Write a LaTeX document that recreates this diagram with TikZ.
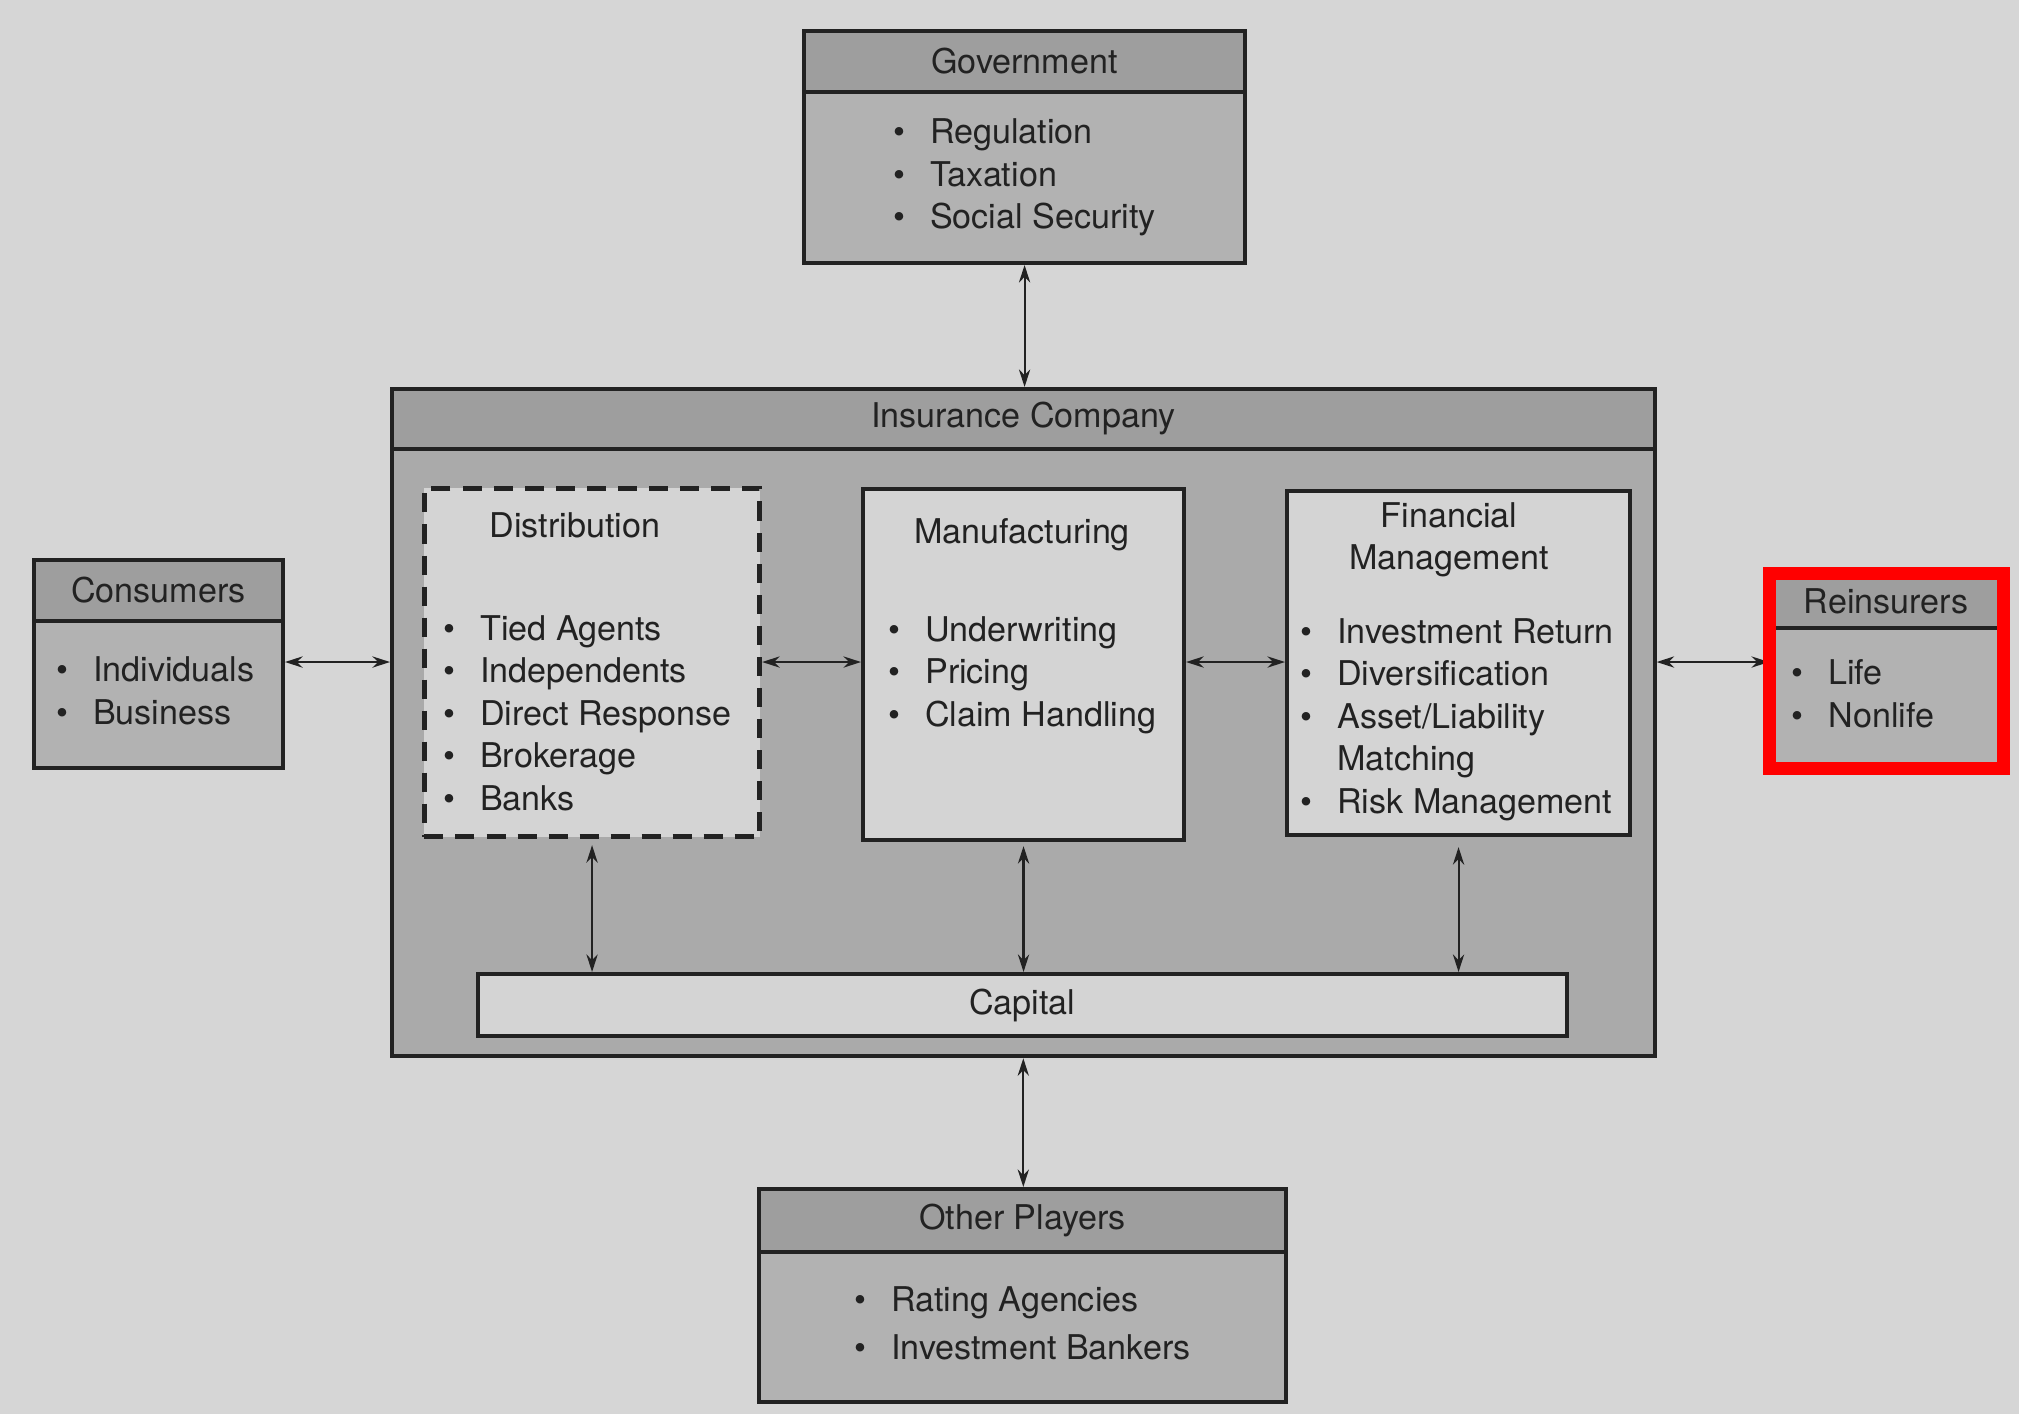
\documentclass[tikz,border=0pt]{standalone}
\usepackage{fontspec}
\setsansfont{TeX Gyre Heros}
\usetikzlibrary{arrows.meta,positioning,fit}

\definecolor{paperGray}{RGB}{214,214,214}
\definecolor{headGray}{RGB}{158,158,158}
\definecolor{bodyGray}{RGB}{178,178,178}
\definecolor{companyGray}{RGB}{170,170,170}
\definecolor{innerGray}{RGB}{212,212,212}
\definecolor{inkGray}{RGB}{34,34,34}

\newcommand{\bulletList}[1]{\begin{tabular}[t]{@{}l@{\hspace{7pt}}l@{}}#1\end{tabular}}

\begin{document}
\begin{tikzpicture}[x=0.01cm,y=-0.01cm,>={Stealth[length=5pt,width=3.2pt]},
    font={\sffamily\fontsize{9.7}{12.1}\selectfont},text=inkGray,
    box/.style={draw=inkGray,line width=1.1pt,anchor=north west,inner sep=0pt},
    head/.style={box,fill=headGray},
    body/.style={box,fill=bodyGray},
    inner/.style={box,fill=innerGray},
    item/.style={anchor=base west,inner sep=0pt},
    title/.style={anchor=base,inner sep=0pt},
    link/.style={<->,draw=inkGray,line width=0.6pt}]
    %\fill paper
    \useasboundingbox (0,0) rectangle (2019,1414);
    \fill[paperGray] (0,0) rectangle (2019,1414);
    \coordinate (arrowY) at (0,662);

    \node[head,minimum width=4.41cm,minimum height=0.61cm] (govHeadNode) at (802,29) {Government};
    \node[body,minimum width=4.41cm,minimum height=1.71cm] (govNode) at (802,90)
        {\bulletList{\textbullet & Regulation\\ \textbullet & Taxation\\ \textbullet & Social Security}};

    \node[head,minimum width=2.49cm,minimum height=0.61cm] (consumersHeadNode) at (32,558) {Consumers};
    \node[body,minimum width=2.49cm,minimum height=1.47cm] (consumersNode) at (32,619)
        {\hspace{-0.06cm}\bulletList{\textbullet & Individuals\\ \textbullet & Business}};

    \node[head,minimum width=2.30cm,minimum height=0.53cm] (reinsHeadNode) at (1769,573) {Reinsurers};
    \node[body,minimum width=2.30cm,minimum height=1.39cm] (reinsNode) at (1769,626)
        {\hspace{-0.46cm}\bulletList{\textbullet & Life\\ \textbullet & Nonlife}};

    \node[head,minimum width=5.27cm,minimum height=0.63cm] (otherHeadNode) at (757,1187) {Other Players};
    \node[body,minimum width=5.27cm,minimum height=1.50cm] (otherNode) at (757,1250)
        {\bulletList{\textbullet & Rating Agencies\\[1.3pt] \textbullet & Investment Bankers}};

    \node[head,minimum width=12.62cm,minimum height=0.60cm] (companyHeadNode) at (390,387) {Insurance Company};
    \node[box,fill=companyGray,minimum width=12.62cm,minimum height=6.07cm] (companyNode) at (390,447) {};

    \node[inner,dash pattern=on 0.19cm off 0.12cm,line width=1.4pt,minimum width=3.35cm,minimum height=3.48cm] (distNode) at (422,486) {};
    \node[title] (distTitleNode) at (575,537) {Distribution};
    \node[item] (distListNode) at (443,640)
        {\bulletList{\textbullet & Tied Agents\\ \textbullet & Independents\\ \textbullet & Direct Response\\ \textbullet & Brokerage\\ \textbullet & Banks}};

    \node[inner,minimum width=3.21cm,minimum height=3.51cm] (manuNode) at (861,487) {};
    \node[title] (manuTitleNode) at (1022,543) {Manufacturing};
    \node[item] (manuListNode) at (888,641)
        {\bulletList{\textbullet & Underwriting\\ \textbullet & Pricing\\ \textbullet & Claim Handling}};

    \node[inner,minimum width=3.43cm,minimum height=3.44cm] (finNode) at (1285,489) {};
    \node[title] (finTitleNode) at (1449,527) {\begin{tabular}[t]{@{}c@{}}Financial\\ Management\end{tabular}};
    \node[item] (finListNode) at (1300,643)
        {\bulletList{\textbullet & Investment Return\\ \textbullet & Diversification\\ \textbullet & Asset/Liability\\ & Matching\\ \textbullet & Risk Management}};

    \node[inner,minimum width=10.88cm,minimum height=0.62cm] (capitalNode) at (476,972) {Capital};

    \draw[link] (govNode.south) -- (govNode.south |- companyHeadNode.north);
    \draw[link] (consumersNode.east |- arrowY) -- (companyNode.west |- arrowY);
    \draw[link] (distNode.east |- arrowY) -- (manuNode.west |- arrowY);
    \draw[link] (manuNode.east |- arrowY) -- (finNode.west |- arrowY);
    \draw[link] (companyNode.east |- arrowY) -- (reinsNode.west |- arrowY);

    \draw[link,shorten <=0.06cm] (distNode.south) -- (distNode.south |- capitalNode.north);
    \draw[link,shorten <=0.04cm] (manuNode.south) -- (manuNode.south |- capitalNode.north);
    \draw[link,shorten <=0.1cm] (finNode.south) -- (finNode.south |- capitalNode.north);
    \draw[link] (companyNode.south) -- (companyNode.south |- otherHeadNode.north);

    \node[draw=red,line width=0.13cm,inner sep=0cm,fit=(reinsHeadNode)(reinsNode)] (markNode) {};

  \end{tikzpicture}
\end{document}
